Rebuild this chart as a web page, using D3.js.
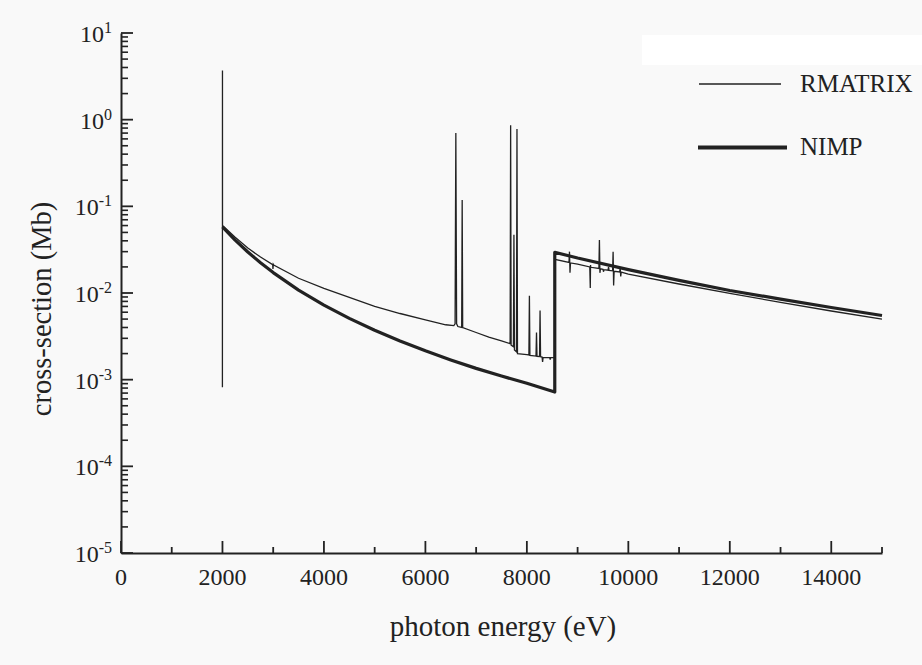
<!DOCTYPE html>
<html>
<head>
<meta charset="utf-8">
<script src="https://cdn.jsdelivr.net/npm/d3@7"></script>
<style>
  html, body { margin: 0; padding: 0; background: #f9f9f9; }
  svg { display: block; }
  text { font-family: "Liberation Serif", "Times New Roman", serif; fill: #222; }
</style>
</head>
<body>
<div id="chart"></div>
<script>
// ---- data ----
const xMajorTicks = [0, 2000, 4000, 6000, 8000, 10000, 12000, 14000];
const xMinorTicks = [1000, 3000, 5000, 7000, 9000, 11000, 13000, 15000];
const yExponents = [1, 0, -1, -2, -3, -4, -5];
const yMantissas = [2, 3, 4, 5, 6, 7, 8, 9];
const seriesNames = ["RMATRIX", "NIMP"];

// RMATRIX: [photon energy (eV), cross-section (Mb)]
const rmatrixPoints = [
  [1999, 0.00082], [2000, 3.7], [2001, 0.060],
  [2250, 0.044], [2500, 0.033], [2750, 0.026],
  [2990, 0.0212], [2995, 0.0190], [3002, 0.0214], [3010, 0.0210],
  [3500, 0.0148], [4000, 0.0113], [4500, 0.0089], [5000, 0.0070],
  [5500, 0.0058], [6000, 0.0049], [6400, 0.0043], [6560, 0.0042],
  [6585, 0.0044], [6600, 0.70], [6615, 0.0044], [6640, 0.0041],
  [6715, 0.0040], [6725, 0.118], [6735, 0.0040],
  [7000, 0.0035], [7250, 0.0031], [7500, 0.0028], [7670, 0.0026],
  [7680, 0.86], [7690, 0.0025], [7735, 0.0024], [7745, 0.047], [7755, 0.0022],
  [7795, 0.0021], [7805, 0.78], [7815, 0.0020],
  [8000, 0.00195], [8040, 0.00193], [8050, 0.0093], [8060, 0.0019],
  [8180, 0.00187], [8190, 0.0035], [8200, 0.00186],
  [8250, 0.00185], [8260, 0.0063], [8270, 0.00184],
  [8300, 0.00182], [8310, 0.0016], [8320, 0.00181],
  [8450, 0.00180], [8460, 0.0017], [8470, 0.00180], [8550, 0.00180],
  [8550, 0.0245],
  [8830, 0.0225], [8840, 0.030], [8850, 0.0171], [8860, 0.0222],
  [9000, 0.0215], [9240, 0.0200], [9250, 0.0114], [9255, 0.0210], [9260, 0.0198],
  [9420, 0.0192], [9430, 0.041], [9440, 0.0171], [9450, 0.0190],
  [9500, 0.0188], [9510, 0.0176], [9520, 0.0186],
  [9600, 0.0183], [9610, 0.0200], [9620, 0.0182],
  [9690, 0.0180], [9700, 0.030], [9710, 0.0122], [9720, 0.0178],
  [9830, 0.0175], [9840, 0.0195], [9850, 0.0155], [9860, 0.0174],
  [10000, 0.0165], [11000, 0.0127], [12000, 0.0099], [13000, 0.0078],
  [14000, 0.0062], [15000, 0.0050]
];

// NIMP: [photon energy (eV), cross-section (Mb)]
const nimpPoints = [
  [2000, 0.058], [2250, 0.0408], [2500, 0.0297], [2750, 0.0223],
  [3000, 0.0172], [3500, 0.0108], [4000, 0.00725], [4500, 0.00509],
  [5000, 0.00371], [5500, 0.00279], [6000, 0.00215], [6500, 0.00169],
  [7000, 0.00135], [7500, 0.00110], [8000, 0.00091], [8550, 0.00072],
  [8550, 0.0295], [9000, 0.0253], [10000, 0.0186], [11000, 0.0140],
  [12000, 0.0107], [13000, 0.0085], [14000, 0.0068], [15000, 0.0055]
];

// ---- layout ----
const W = 922, H = 665;
const svg = d3.select("#chart").append("svg").attr("width", W).attr("height", H);

svg.append("rect").attr("x", 0).attr("y", 0).attr("width", W).attr("height", H).attr("fill", "#f9f9f9");
svg.append("rect").attr("x", 642).attr("y", 35).attr("width", 280).attr("height", 30).attr("fill", "#ffffff");

const x = d3.scaleLinear().domain([0, 15000]).range([121, 882]);
const y = d3.scaleLog().domain([1e-5, 10]).range([553, 33]);
const ink = "#222";
const x0 = x(0), yBase = y(1e-5);

// x axis (domain line from d3 axis, ticks drawn inward)
const xAxis = svg.append("g").attr("transform", `translate(0,${yBase})`);
xAxis.call(d3.axisBottom(x).tickValues([]).tickSizeOuter(0));
xAxis.select(".domain").attr("stroke", ink).attr("stroke-width", 2);
xAxis.selectAll(".xmaj").data(xMajorTicks).enter().append("line").attr("class", "xmaj")
  .attr("x1", d => x(d)).attr("x2", d => x(d)).attr("y1", 0).attr("y2", -12)
  .attr("stroke", ink).attr("stroke-width", 1.8);
xAxis.selectAll(".xmin").data(xMinorTicks).enter().append("line").attr("class", "xmin")
  .attr("x1", d => x(d)).attr("x2", d => x(d)).attr("y1", 0).attr("y2", -6)
  .attr("stroke", ink).attr("stroke-width", 1.8);

svg.append("g").selectAll("text").data(xMajorTicks).enter().append("text")
  .attr("x", d => x(d)).attr("y", yBase + 32)
  .attr("text-anchor", "middle").attr("font-size", 24)
  .text(d => d);

// y axis
const yMinor = [];
yExponents.forEach(e => { if (e < 1) yMantissas.forEach(m => yMinor.push(m * Math.pow(10, e))); });
const yAxis = svg.append("g").attr("transform", `translate(${x0},0)`);
yAxis.call(d3.axisLeft(y).tickValues([]).tickSizeOuter(0));
yAxis.select(".domain").attr("stroke", ink).attr("stroke-width", 2);
yAxis.selectAll(".ymaj").data(yExponents).enter().append("line").attr("class", "ymaj")
  .attr("x1", 0).attr("x2", 12).attr("y1", d => y(Math.pow(10, d))).attr("y2", d => y(Math.pow(10, d)))
  .attr("stroke", ink).attr("stroke-width", 1.8);
yAxis.selectAll(".ymin").data(yMinor).enter().append("line").attr("class", "ymin")
  .attr("x1", 0).attr("x2", 7).attr("y1", d => y(d)).attr("y2", d => y(d))
  .attr("stroke", ink).attr("stroke-width", 1.6);

const ylab = svg.append("g").selectAll("text").data(yExponents).enter().append("text")
  .attr("x", 112).attr("y", d => y(Math.pow(10, d)) + 9)
  .attr("text-anchor", "end").attr("font-size", 24);
ylab.append("tspan").text("10");
ylab.append("tspan").attr("font-size", 16).attr("dy", -9).text(d => d);

// axis titles
svg.append("text").attr("x", 503).attr("y", 636).attr("text-anchor", "middle")
  .attr("font-size", 29).text("photon energy (eV)");
svg.append("text").attr("transform", `translate(51,309) rotate(-90)`).attr("text-anchor", "middle")
  .attr("font-size", 28.5).text("cross-section (Mb)");

// curves
const line = d3.line().x(d => x(d[0])).y(d => y(d[1]));
svg.append("path").datum(nimpPoints).attr("d", line)
  .attr("fill", "none").attr("stroke", ink).attr("stroke-width", 3.2).attr("stroke-linejoin", "round");
svg.append("path").datum(rmatrixPoints).attr("d", line)
  .attr("fill", "none").attr("stroke", ink).attr("stroke-width", 1.3).attr("stroke-linejoin", "miter");

// legend
const legend = svg.append("g");
legend.append("line").attr("x1", 699).attr("x2", 781).attr("y1", 84).attr("y2", 84)
  .attr("stroke", ink).attr("stroke-width", 1.3);
legend.append("text").attr("x", 800).attr("y", 92).attr("font-size", 25).text(seriesNames[0]);
legend.append("line").attr("x1", 698).attr("x2", 787).attr("y1", 147.5).attr("y2", 147.5)
  .attr("stroke", ink).attr("stroke-width", 4);
legend.append("text").attr("x", 800).attr("y", 155).attr("font-size", 25).text(seriesNames[1]);
</script>
</body>
</html>
